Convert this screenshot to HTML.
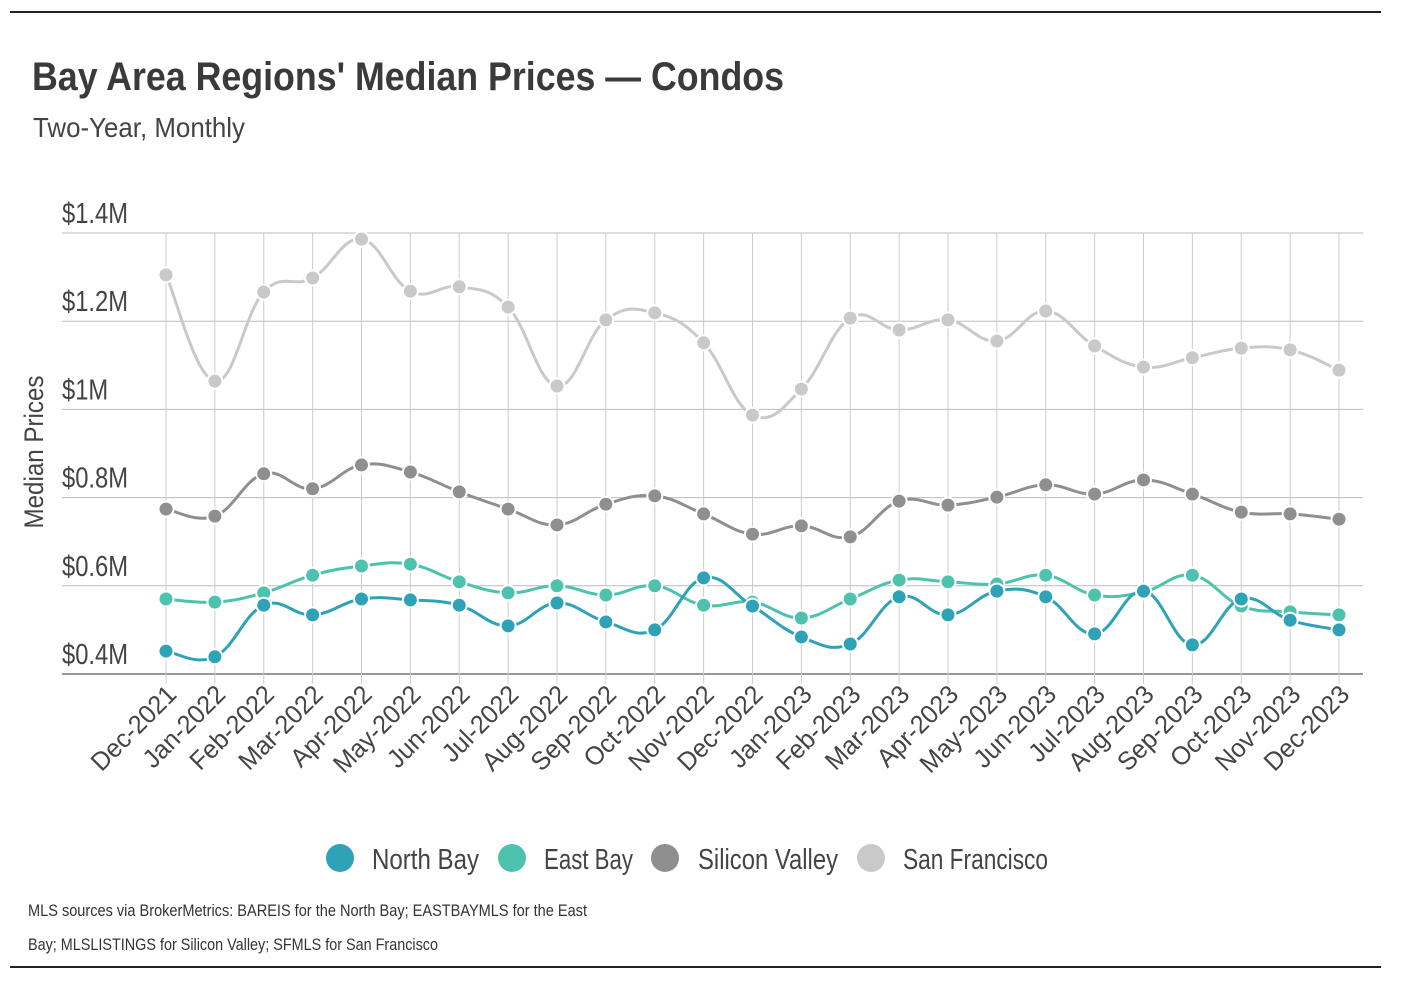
<!DOCTYPE html>
<html><head><meta charset="utf-8"><style>
body{margin:0;background:#fff;width:1402px;height:984px;overflow:hidden;font-family:"Liberation Sans Narrow","Liberation Sans",sans-serif;}
svg text{font-family:"Liberation Sans Narrow","Liberation Sans",sans-serif;}
</style></head><body>
<svg id="c" width="1402" height="984">
<line x1="10" y1="12" x2="1381" y2="12" stroke="#222" stroke-width="2"/>
<line x1="10" y1="967" x2="1381" y2="967" stroke="#222" stroke-width="2"/>
<text x="32" y="90" font-size="40" font-weight="bold" fill="#3a3a3a" textLength="752" lengthAdjust="spacingAndGlyphs">Bay Area Regions' Median Prices — Condos</text>
<text x="33" y="137" font-size="28" fill="#444" textLength="212" lengthAdjust="spacingAndGlyphs">Two-Year, Monthly</text>
<text transform="translate(43,452) rotate(-90)" text-anchor="middle" font-size="27" fill="#444" textLength="153" lengthAdjust="spacingAndGlyphs">Median Prices</text>
<g id="grid"></g><g id="lines"></g><g id="xl"></g>
<g>
<circle cx="340" cy="858" r="14" fill="#2ea2b7"/><text x="372" y="869" font-size="29" fill="#444" textLength="107" lengthAdjust="spacingAndGlyphs">North Bay</text>
<circle cx="512" cy="858" r="14" fill="#4dc3ae"/><text x="544" y="869" font-size="29" fill="#444" textLength="89" lengthAdjust="spacingAndGlyphs">East Bay</text>
<circle cx="665" cy="858" r="14" fill="#8f8f8f"/><text x="698" y="869" font-size="29" fill="#444" textLength="140" lengthAdjust="spacingAndGlyphs">Silicon Valley</text>
<circle cx="871" cy="858" r="14" fill="#c9c9c9"/><text x="903" y="869" font-size="29" fill="#444" textLength="145" lengthAdjust="spacingAndGlyphs">San Francisco</text>
</g>
<text x="28" y="916" font-size="17" fill="#333" textLength="559" lengthAdjust="spacingAndGlyphs">MLS sources via BrokerMetrics: BAREIS for the North Bay; EASTBAYMLS for the East</text>
<text x="28" y="950" font-size="17" fill="#333" textLength="410" lengthAdjust="spacingAndGlyphs">Bay; MLSLISTINGS for Silicon Valley; SFMLS for San Francisco</text>
</svg>
<script>
const months=["Dec-2021","Jan-2022","Feb-2022","Mar-2022","Apr-2022","May-2022","Jun-2022","Jul-2022","Aug-2022","Sep-2022","Oct-2022","Nov-2022","Dec-2022","Jan-2023","Feb-2023","Mar-2023","Apr-2023","May-2023","Jun-2023","Jul-2023","Aug-2023","Sep-2023","Oct-2023","Nov-2023","Dec-2023"];
const yTicks=[0.4,0.6,0.8,1.0,1.2,1.4];
const yTickLabels=["$0.4M","$0.6M","$0.8M","$1M","$1.2M","$1.4M"];
const sanFrancisco=[1.305,1.064,1.266,1.298,1.386,1.268,1.278,1.232,1.053,1.203,1.219,1.151,0.987,1.046,1.207,1.180,1.203,1.155,1.223,1.144,1.096,1.117,1.139,1.135,1.089];
const siliconValley=[0.774,0.758,0.854,0.820,0.874,0.858,0.813,0.774,0.738,0.785,0.804,0.763,0.717,0.736,0.711,0.792,0.783,0.801,0.829,0.808,0.840,0.808,0.767,0.763,0.751];
const eastBay=[0.570,0.563,0.584,0.624,0.645,0.649,0.609,0.584,0.600,0.579,0.600,0.556,0.563,0.527,0.570,0.613,0.609,0.604,0.624,0.579,0.586,0.624,0.554,0.541,0.534];
const northBay=[0.452,0.439,0.556,0.534,0.570,0.568,0.556,0.509,0.561,0.518,0.500,0.618,0.554,0.484,0.468,0.575,0.534,0.588,0.575,0.491,0.588,0.466,0.570,0.522,0.500];
const NS="http://www.w3.org/2000/svg";
const X=i=>166+i*(1339-166)/(months.length-1);
const Y=v=>674-(v-0.4)*(674-233)/1.0;
function mk(t,a,p){const e=document.createElementNS(NS,t);for(const k in a)e.setAttribute(k,a[k]);p.appendChild(e);return e;}
const grid=document.getElementById('grid'),lines=document.getElementById('lines'),xl=document.getElementById('xl');
yTicks.forEach((v,i)=>{const l=mk('line',{x1:62,x2:1363,y1:Y(v),y2:Y(v),stroke:i==0?'#777':'#bbb','stroke-width':i==0?1.5:1},grid);


const t=mk('text',{x:0,y:0,'font-size':29,fill:'#444',transform:`translate(62,${Y(v)-10}) scale(0.82,1)`},grid);t.textContent=yTickLabels[i];

});
months.forEach((m,i)=>{const l=mk('line',{x1:X(i),x2:X(i),y1:233,y2:684,stroke:'#ccc','stroke-width':1},grid);


const t=mk('text',{x:0,y:0,'font-size':26,fill:'#444','text-anchor':'end',transform:`translate(${X(i)+12},${696}) rotate(-45) scale(0.96,1)`},xl);t.textContent=m;

});
function path(vals){const p=vals.map((v,i)=>[X(i),Y(v)]);let d=`M${p[0][0]},${p[0][1]}`;const k=0.2;
for(let i=0;i<p.length-1;i++){const p0=p[i-1]||p[i],p1=p[i],p2=p[i+1],p3=p[i+2]||p2;
d+=` C${p1[0]+(p2[0]-p0[0])*k},${p1[1]+(p2[1]-p0[1])*k} ${p2[0]-(p3[0]-p1[0])*k},${p2[1]-(p3[1]-p1[1])*k} ${p2[0]},${p2[1]}`;}return d;}
[[sanFrancisco,'#c9c9c9','san-francisco'],[siliconValley,'#8f8f8f','silicon-valley'],[eastBay,'#4dc3ae','east-bay'],[northBay,'#2ea2b7','north-bay']].forEach(([vals,c,n])=>{
const g=mk('g',{},lines);


const pl=mk('path',{d:path(vals),fill:'none',stroke:c,'stroke-width':3},g);


vals.forEach((v,i)=>{const ci=mk('circle',{cx:X(i),cy:Y(v),r:7.5,fill:c,stroke:'#fff','stroke-width':2},g);

});});
</script>
</body></html>
